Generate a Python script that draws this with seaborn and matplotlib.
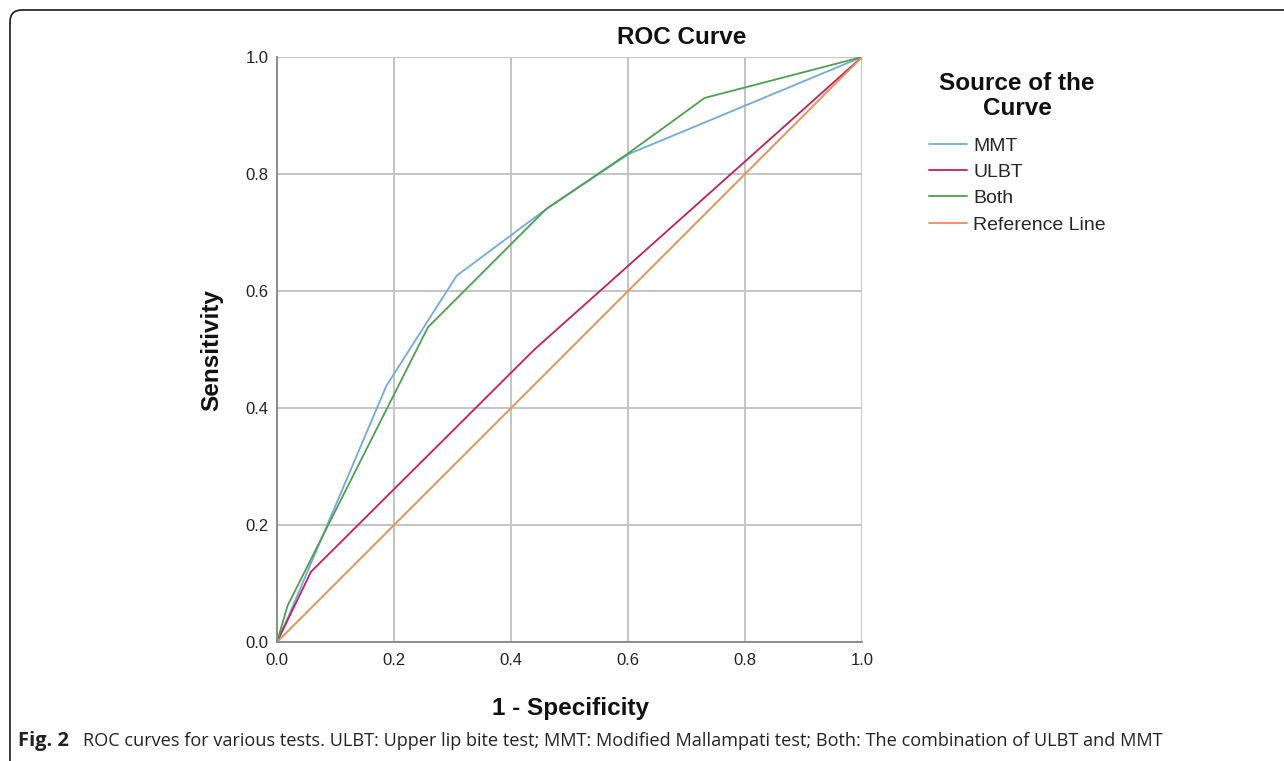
import matplotlib
matplotlib.use("Agg")
import matplotlib.pyplot as plt
from matplotlib.patches import FancyBboxPatch
import seaborn as sns
import pandas as pd

sns.set_theme(style="whitegrid")
plt.rcParams["font.family"] = ["Liberation Sans", "DejaVu Sans"]

# ROC points (1 - specificity, sensitivity)
mmt_fpr = [0.0, 0.02, 0.187, 0.307, 0.46, 0.601, 1.0]
mmt_tpr = [0.0, 0.045, 0.438, 0.626, 0.74, 0.834, 1.0]

ulbt_fpr = [0.0, 0.058, 0.44, 1.0]
ulbt_tpr = [0.0, 0.12, 0.50, 1.0]

both_fpr = [0.0, 0.018, 0.258, 0.46, 0.60, 0.731, 1.0]
both_tpr = [0.0, 0.062, 0.538, 0.74, 0.835, 0.930, 1.0]

ref_fpr = [0.0, 1.0]
ref_tpr = [0.0, 1.0]

curve_names = ["MMT", "ULBT", "Both", "Reference Line"]
curve_colors = ["#72AADB", "#C51F57", "#4E9F52", "#F38B4E"]
ticks = [0.0, 0.2, 0.4, 0.6, 0.8, 1.0]

frames = []
for name, fx, ty in zip(curve_names,
                        [mmt_fpr, ulbt_fpr, both_fpr, ref_fpr],
                        [mmt_tpr, ulbt_tpr, both_tpr, ref_tpr]):
    frames.append(pd.DataFrame({"fpr": fx, "tpr": ty, "curve": name}))
df = pd.concat(frames, ignore_index=True)

W, H = 1284, 761
fig = plt.figure(figsize=(W / 100, H / 100), dpi=100)
ax = fig.add_axes([277 / W, 1 - 642 / H, 585 / W, 585 / H])

sns.lineplot(data=df, x="fpr", y="tpr", hue="curve", hue_order=curve_names,
             palette=dict(zip(curve_names, curve_colors)), sort=False,
             estimator=None, linewidth=1.3, ax=ax)

ax.set_xlim(0, 1)
ax.set_ylim(0, 1)
ax.set_xticks(ticks)
ax.set_yticks(ticks)
ax.set_xticklabels([f"{t:.1f}" for t in ticks])
ax.set_yticklabels([f"{t:.1f}" for t in ticks])
ax.tick_params(axis="both", length=0, labelsize=12, colors="#222222")
ax.tick_params(axis="x", pad=8)
ax.tick_params(axis="y", pad=6)
ax.grid(True, color="#C4C4C4", linewidth=1.4)
ax.set_facecolor("white")
for side in ["top", "right"]:
    ax.spines[side].set_visible(False)
for side in ["left", "bottom"]:
    ax.spines[side].set_color("#8C8C8C")
    ax.spines[side].set_linewidth(1.4)
ax.set_xlabel("")
ax.set_ylabel("")

fig.text(212 / W, 1 - 350 / H, "Sensitivity", rotation=90, ha="center",
         va="center", fontsize=17.5, fontweight="bold", color="#111111")
fig.text(570 / W, 1 - 708 / H, "1 - Specificity", ha="center", va="center",
         fontsize=17.5, fontweight="bold", color="#111111")
fig.text(682 / W, 1 - 38 / H, "ROC Curve", ha="center", va="center",
         fontsize=17.5, fontweight="bold", color="#111111")

handles, labels = ax.get_legend_handles_labels()
leg = ax.legend(handles, labels, title="Source of the\nCurve", frameon=False,
                loc="upper left", bbox_to_anchor=(911 / W, 1 - 55 / H),
                bbox_transform=fig.transFigure, fontsize=14,
                title_fontproperties={"size": 17.5, "weight": "bold"},
                handlelength=2.0, handletextpad=0.3, labelspacing=0.45)
leg.get_title().set_linespacing(1.1)
leg.get_title().set_multialignment("center")
leg.get_title().set_color("#111111")
leg._legend_box.sep = 12

# rounded panel border as in the journal page
border = FancyBboxPatch((0.10, -0.5), 14.0, 8.01,
                        boxstyle="round,pad=0,rounding_size=0.12",
                        transform=fig.dpi_scale_trans, facecolor="none",
                        edgecolor="#1A1A1A", linewidth=1.2)
fig.add_artist(border)

fig.text(18 / W, 1 - 741 / H, "Fig. 2", ha="left", va="center",
         fontsize=14.5, fontweight="bold", family=["Open Sans", "DejaVu Sans"],
         color="#222222")
fig.text(83 / W, 1 - 741 / H,
         "ROC curves for various tests. ULBT: Upper lip bite test; "
         "MMT: Modified Mallampati test; Both: The combination of ULBT and MMT",
         ha="left", va="center", fontsize=13.1,
         family=["Open Sans", "DejaVu Sans"], color="#222222")

fig.savefig("out.png", dpi=100)
